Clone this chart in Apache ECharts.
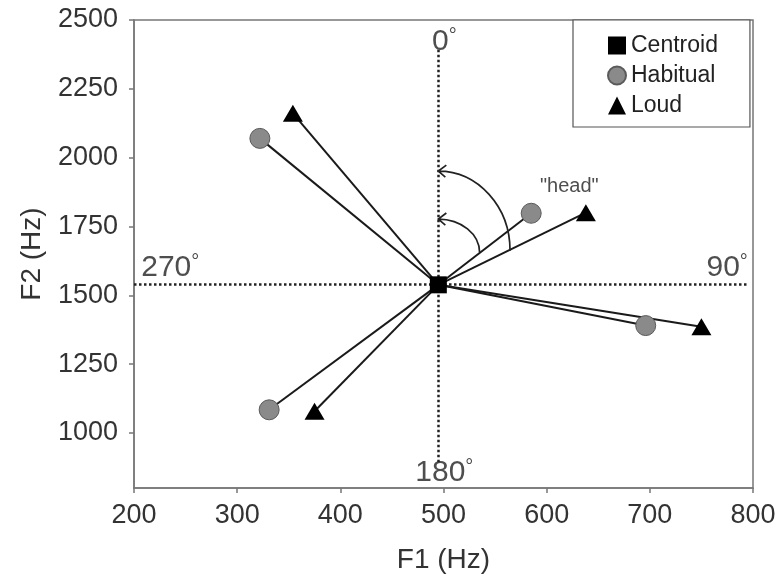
<!DOCTYPE html>
<html><head><meta charset="utf-8">
<script src="https://cdn.jsdelivr.net/npm/echarts@6/dist/echarts.min.js"></script>
<style>html,body{margin:0;padding:0;background:#fff}#c{width:780px;height:583px}</style>
</head><body><div id="c"></div>
<script>
// ---- data ----
const centroid = [495, 1538];
const habitual = [[322, 2070], [585, 1798], [696, 1390], [331, 1084]];
const loud = [[354, 2161], [638, 1800], [750, 1386], [375, 1079]];
const xTicks = [200, 300, 400, 500, 600, 700, 800];
const yTicks = [1000, 1250, 1500, 1750, 2000, 2250, 2500];
const refLines = [[[495, 2392], [495, 885]], [[200, 1540], [795, 1540]]];
const angleLabels = [
  { name: '0', value: [495, 2422], align: 'center', dx: 6 },
  { name: '180', value: [495, 855], align: 'center', dx: 6 },
  { name: '270', value: [207, 1600], align: 'left', dx: 0 },
  { name: '90', value: [795, 1600], align: 'right', dx: 0 }
];
const headLabel = [{ name: '"head"', value: [622, 1897] }];
// arcs: endpoint on a spoke, and top point on the 0° line
const headArcs = [
  { end: [564.5, 1662], top: [495, 1951] },
  { end: [535, 1655], top: [495, 1777] }
];

const FONT = '"Liberation Sans", Arial, Helvetica, sans-serif';
const chart = echarts.init(document.getElementById('c'), null, { renderer: 'canvas' });

const K = 0.5523;
function arcItem(params, api) {
  const a = headArcs[params.dataIndex];
  const p0 = api.coord(a.end), p3 = api.coord(a.top);
  const rx = p0[0] - p3[0], ry = p0[1] - p3[1];
  const d = 'M' + p0[0] + ',' + p0[1] +
    ' C' + p0[0] + ',' + (p0[1] - K * ry) + ' ' + (p3[0] + K * rx) + ',' + p3[1] + ' ' + p3[0] + ',' + p3[1] +
    ' M' + (p3[0] + 8) + ',' + (p3[1] - 6) + ' L' + p3[0] + ',' + p3[1] + ' L' + (p3[0] + 7) + ',' + (p3[1] + 6);
  return { type: 'path', shape: { pathData: d }, style: { stroke: '#222', fill: null, lineWidth: 1.7 } };
}

chart.setOption({
  animation: false,
  backgroundColor: '#fff',
  textStyle: { fontFamily: FONT },
  grid: { left: 134, right: 27, top: 20, bottom: 95, show: true, borderColor: '#777', borderWidth: 1.5, outerBoundsMode: 'none' },
  xAxis: {
    type: 'value', min: 200, max: 800, interval: 100,
    axisLine: { lineStyle: { color: '#777', width: 1.5 } },
    axisTick: { show: true, inside: false, length: 5, lineStyle: { color: '#777', width: 1.5 } },
    axisLabel: { fontSize: 27, color: '#333', margin: 14, fontFamily: FONT, customValues: xTicks, formatter: v => String(v) },
    splitLine: { show: false },
    name: 'F1 (Hz)', nameLocation: 'middle', nameGap: 58,
    nameTextStyle: { fontSize: 28, color: '#333', fontFamily: FONT }
  },
  yAxis: {
    type: 'value', min: 800, max: 2500,
    axisLine: { show: true, lineStyle: { color: '#777', width: 1.5 } },
    axisTick: { show: true, inside: false, length: 5, lineStyle: { color: '#777', width: 1.5 }, customValues: yTicks },
    axisLabel: { fontSize: 27, color: '#333', margin: 16, fontFamily: FONT, customValues: yTicks, formatter: v => String(v) },
    splitLine: { show: false },
    name: 'F2 (Hz)', nameLocation: 'middle', nameGap: 88,
    nameTextStyle: { fontSize: 28, color: '#333', fontFamily: FONT }
  },
  legend: {
    orient: 'vertical', left: 573, top: 20,
    data: [{ name: 'Centroid', icon: 'rect' }, { name: 'Habitual', icon: 'circle' }, { name: 'Loud', icon: 'triangle' }],
    itemWidth: 18, itemHeight: 18, itemGap: 7,
    textStyle: { fontSize: 23, color: '#222', fontFamily: FONT },
    borderColor: '#555', borderWidth: 1.2, borderRadius: 0,
    padding: [14, 32, 10, 34], backgroundColor: '#fff'
  },
  series: [
    {
      type: 'lines', coordinateSystem: 'cartesian2d', silent: true, z: 1,
      data: refLines.map(c => ({ coords: c })),
      lineStyle: { color: '#222', width: 2.5, type: [2.5, 2.5], opacity: 1 }
    },
    {
      type: 'lines', coordinateSystem: 'cartesian2d', silent: true, z: 2,
      data: habitual.concat(loud).map(p => ({ coords: [centroid, p] })),
      lineStyle: { color: '#1a1a1a', width: 2, opacity: 1 }
    },
    {
      type: 'custom', coordinateSystem: 'cartesian2d', silent: true, z: 2,
      data: headArcs.map(a => a.end), renderItem: arcItem
    },
    {
      name: 'Habitual', type: 'scatter', z: 3, symbol: 'circle', symbolSize: 20,
      data: habitual,
      itemStyle: { color: '#8a8a8a', borderColor: '#5a5a5a', borderWidth: 1, opacity: 1 }
    },
    {
      name: 'Loud', type: 'scatter', z: 3, symbol: 'triangle', symbolSize: [20, 17],
      data: loud,
      itemStyle: { color: '#000', opacity: 1 }
    },
    {
      name: 'Centroid', type: 'scatter', z: 4, symbol: 'rect', symbolSize: 17,
      data: [centroid],
      itemStyle: { color: '#000', opacity: 1 }
    },
    {
      type: 'scatter', silent: true, z: 5, symbolSize: 0,
      data: angleLabels.map(l => ({
        name: l.name, value: l.value,
        label: { align: l.align, offset: [l.dx, 0] }
      })),
      label: {
        show: true, position: [0, 0], verticalAlign: 'middle',
        formatter: p => '{n|' + p.name + '}{d|°}',
        rich: {
          n: { fontSize: 30, color: '#222', fontFamily: FONT },
          d: { fontSize: 20, color: '#222', fontFamily: FONT, verticalAlign: 'top' }
        }
      }
    },
    {
      type: 'scatter', silent: true, z: 5, symbolSize: 0,
      data: headLabel,
      label: { show: true, position: [0, 0], align: 'center', verticalAlign: 'middle', formatter: p => p.name, fontSize: 20, color: '#222', fontFamily: FONT }
    }
  ]
});
</script></body></html>
